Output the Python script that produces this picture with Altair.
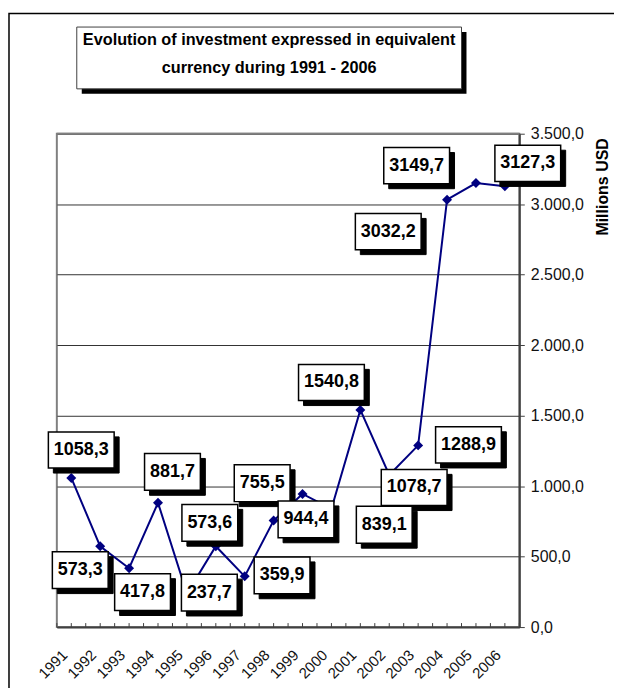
import altair as alt
import pandas as pd

# ---------------- data ----------------
years = list(range(1991, 2007))
values = [1058.3, 573.3, 417.8, 881.7, 237.7, 573.6, 359.9, 755.5,
          944.4, 839.1, 1540.8, 1078.7, 1288.9, 3032.2, 3149.7, 3127.3]
# label box placement relative to its point (pixels, +y = down)
label_dx = [10, -20, 13.5, 14.5, 22.5, -6, 37.5, -11.5, 3.5, 53, -29, 25, 50.5, -59, -59.5, 23]
label_dy = [-28, 24, 24, -31, -1, -23.5, -1, -37.5, 25.5, 16, -27.5, 12.5, -0.5, 32, -17.5, -23]
title_lines = ["Evolution of investment expressed in equivalent",
               "currency during 1991 - 2006"]
y_title = "Millions USD"
y_ticks = [0, 500, 1000, 1500, 2000, 2500, 3000, 3500]

# ---------------- layout ----------------
W, H = 464, 495
X_DOMAIN = [1990.5, 2006.5]
Y_DOMAIN = [0, 3500]
px_x = (X_DOMAIN[1] - X_DOMAIN[0]) / W
px_y = (Y_DOMAIN[1] - Y_DOMAIN[0]) / H
FONT = "Liberation Sans"

df = pd.DataFrame({"year": years, "value": values, "dx": label_dx, "dy": label_dy})
tick_df = pd.DataFrame({"t": [X_DOMAIN[0] + 0.5 * k for k in range(33)]})
one = alt.Data(values=[{"k": 0}])

x_scale = alt.Scale(domain=X_DOMAIN, nice=False, zero=False)
y_scale = alt.Scale(domain=Y_DOMAIN, nice=False, zero=False)

P6 = "M-1,-0.55L1,-0.55L1,0.55L-1,0.55Z"
P5 = "M-1,-0.66L1,-0.66L1,0.66L-1,0.66Z"

x_axis = alt.Axis(values=years, format="d", labelAngle=-45, labelAlign="right",
                  labelBaseline="middle", ticks=False, tickSize=0, labelPadding=25,
                  labelOffset=-7, labelOverlap=False, labelFont=FONT, labelFontSize=15,
                  labelColor="#111111", domainColor="#404040", domainWidth=2,
                  grid=False, title=None)
y_axis = alt.Axis(orient="right", values=y_ticks,
                  labelExpr="replace(replace(replace(format(datum.value, ',.1f'), ',', 'T'), '.', ','), 'T', '.')",
                  grid=True, gridColor="#333333",
                  gridWidth=1, domainColor="#404040", domainWidth=2, tickColor="#404040",
                  tickSize=5, labelPadding=6, labelFont=FONT, labelFontSize=16,
                  labelOverlap=False,
                  labelColor="#111111", title=y_title, titleFont=FONT, titleFontSize=16,
                  titleFontWeight="bold", titleAngle=270, titleAlign="right",
                  titleBaseline="middle", titleX=83, titleY=4, titleColor="black")


def X(field):
    return alt.X(field, scale=x_scale, axis=x_axis)


def Y(field):
    return alt.Y(field, scale=y_scale, axis=y_axis)


base = alt.Chart(df)
line = base.mark_line(color="#000080", strokeWidth=2).encode(x=X("year:Q"), y=Y("value:Q"))

outer = alt.Chart(one).mark_rect(fill="transparent", stroke="black", strokeWidth=1.5).encode(
    x=alt.value(-48), x2=alt.value(W + 200), y=alt.value(-120.5), y2=alt.value(H + 200))
tshadow = alt.Chart(one).mark_rect(fill="black").encode(
    x=alt.value(25), x2=alt.value(411), y=alt.value(-102), y2=alt.value(-40))
tbox = alt.Chart(one).mark_rect(fill="white", stroke="#404040", strokeWidth=1).encode(
    x=alt.value(20), x2=alt.value(406), y=alt.value(-107), y2=alt.value(-45))
t1 = alt.Chart(one).mark_text(font=FONT, fontSize=16.3, fontWeight="bold", color="black",
                              align="center", baseline="alphabetic").encode(
    x=alt.value(213), y=alt.value(-88.5), text=alt.value(title_lines[0]))
t2 = alt.Chart(one).mark_text(font=FONT, fontSize=16.3, fontWeight="bold", color="black",
                              align="center", baseline="alphabetic").encode(
    x=alt.value(213), y=alt.value(-60.5), text=alt.value(title_lines[1]))
topline = alt.Chart(one).mark_rule(color="#808080", strokeWidth=2).encode(
    x=alt.value(0), x2=alt.value(W), y=alt.value(0))

ticks = alt.Chart(tick_df).mark_rule(color="#404040", strokeWidth=1).encode(
    x=X("t:Q"), y=alt.value(H - 4), y2=alt.value(H))

pts = base.mark_point(shape="diamond", filled=True, color="#000080", size=100, opacity=1).encode(
    x=X("year:Q"), y=Y("value:Q"))

lab = base.transform_calculate(
    lx=f"datum.year + datum.dx * {px_x}",
    ly=f"datum.value - datum.dy * {px_y}",
    label="replace(format(datum.value, '.1f'), '.', ',')",
).transform_calculate(
    sz="length(datum.label) > 5 ? 4356 : 3136",
    shp=f"length(datum.label) > 5 ? '{P6}' : '{P5}'",
)
lshadow = lab.mark_point(filled=True, fill="black", stroke="black", strokeWidth=1,
                         opacity=1, xOffset=5, yOffset=5).encode(
    x=X("lx:Q"), y=Y("ly:Q"),
    size=alt.Size("sz:Q", scale=None), shape=alt.Shape("shp:N", scale=None))
lbox = lab.mark_point(filled=True, fill="white", stroke="black", strokeWidth=1.5,
                      opacity=1).encode(
    x=X("lx:Q"), y=Y("ly:Q"),
    size=alt.Size("sz:Q", scale=None), shape=alt.Shape("shp:N", scale=None))
ltext = lab.mark_text(font=FONT, fontSize=18, fontWeight="bold", color="black",
                      align="center", baseline="middle").encode(
    x=X("lx:Q"), y=Y("ly:Q"), text="label:N")

chart = alt.layer(outer, tshadow, tbox, t1, t2, line, topline, ticks, pts,
                  lshadow, lbox, ltext).properties(
    width=W, height=H,
    padding={"left": 49, "top": 125, "right": 95, "bottom": 60},
    autosize=alt.AutoSizeParams(type="none"),
    background="white",
).configure_view(stroke="#808080", strokeWidth=2
).configure_axisX(labelFontSize=15, labelFont=FONT)

chart.save("out.html", embed_options={"renderer": "svg", "actions": False})
